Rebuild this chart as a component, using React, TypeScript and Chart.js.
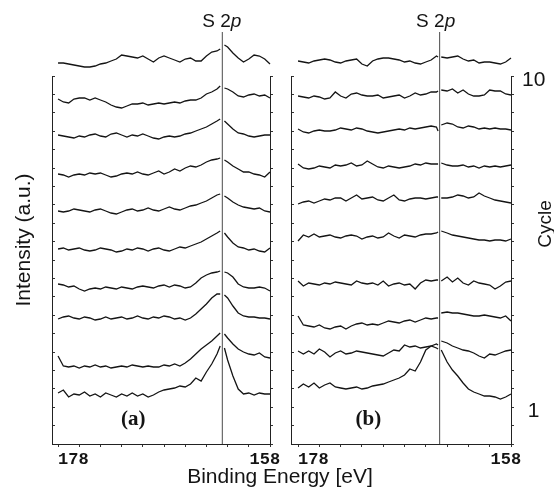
import { useEffect, useRef } from 'react';
import { Chart, registerables } from 'chart.js';

Chart.register(...registerables);

// Binding energies (eV); the null sample marks the break at the S 2p line
const energyA = [178, 177.5, 177, 176.5, 176, 175.5, 175, 174.5, 174, 173.5, 173, 172.5, 172, 171.5, 171, 170.5, 170, 169.5, 169, 168.5, 168, 167.5, 167, 166.5, 166, 165.5, 165, 164.5, 164, 163.5, 163, 162.7, 162.5, 162.3, 162, 161.5, 161, 160.5, 160, 159.5, 159, 158.5, 158];
const energyB = [178, 177.5, 177, 176.5, 176, 175.5, 175, 174.5, 174, 173.5, 173, 172.5, 172, 171.5, 171, 170.5, 170, 169.5, 169, 168.5, 168, 167.5, 167, 166.5, 166, 165.5, 165, 164.85, 164.7, 164.55, 164, 163.5, 163, 162.5, 162, 161.5, 161, 160.5, 160, 159.5, 159, 158.5, 158];

const s2pA = 162.5;
const s2pB = 164.7;
const s2pLineTop = 412;

// Panel (a): stacked spectra, cycle 1 (bottom) to cycle 10 (top), intensity in a.u.
const panelA_c1 = [51, 54, 47, 50, 49, 52, 48, 50, 47, 51, 49, 47, 50, 48, 51, 48, 50, 47, 49, 52, 54, 55, 56, 58, 57, 60, 66, 63, 72, 80, 90, 98, null, 96, 84, 68, 55, 50, 51, 49, 51, 50, 50];
const panelA_c2 = [88, 78, 77, 78, 76, 78, 77, 79, 77, 78, 76, 77, 78, 77, 79, 78, 77, 78, 77, 77, 79, 78, 80, 78, 81, 85, 90, 95, 99, 103, 108, 111, null, 110, 106, 100, 95, 92, 90, 89, 91, 87, 86];
const panelA_c3 = [125, 127, 128, 126, 125, 127, 126, 124, 125, 127, 125, 126, 127, 125, 126, 128, 126, 125, 127, 126, 128, 127, 125, 126, 124, 126, 130, 135, 140, 146, 150, 150, null, 149, 146, 138, 131, 128, 127, 127, 126, 126, 125];
const panelA_c4 = [160, 159, 157, 158, 155, 153, 155, 156, 155, 157, 156, 155, 157, 156, 155, 157, 158, 157, 156, 158, 159, 157, 159, 158, 156, 157, 161, 166, 169, 171, 172, 173, null, 172, 171, 167, 160, 157, 156, 156, 157, 156, 153];
const panelA_c5 = [195, 196, 194, 195, 196, 194, 193, 194, 196, 195, 194, 192, 193, 195, 194, 196, 195, 193, 195, 196, 194, 193, 195, 197, 196, 198, 200, 202, 205, 208, 211, 213, null, 211, 207, 201, 197, 196, 194, 195, 193, 192, 196];
const panelA_c6 = [233, 232, 233, 235, 234, 233, 232, 234, 235, 233, 231, 230, 232, 234, 235, 233, 234, 236, 234, 233, 235, 237, 235, 234, 236, 238, 239, 241, 243, 246, 249, 250, null, 248, 246, 242, 239, 237, 236, 235, 236, 233, 232];
const panelA_c7 = [270, 269, 267, 269, 270, 269, 271, 270, 271, 269, 267, 268, 270, 271, 270, 272, 270, 269, 271, 273, 270, 272, 275, 273, 276, 278, 277, 279, 282, 284, 285, 286, null, 284, 282, 278, 275, 272, 272, 270, 269, 267, 272];
const panelA_c8 = [309, 308, 307, 306, 308, 307, 309, 310, 308, 307, 310, 311, 309, 307, 309, 308, 310, 308, 306, 305, 307, 308, 307, 308, 310, 311, 313, 315, 317, 320, 323, 325, null, 323, 320, 315, 311, 310, 308, 307, 308, 309, 309];
const panelA_c9 = [345, 342, 341, 345, 346, 346, 344, 346, 344, 342, 339, 337, 336, 338, 340, 340, 341, 339, 340, 341, 340, 341, 342, 341, 343, 344, 344, 346, 350, 352, 355, 358, null, 356, 355, 352, 348, 347, 349, 350, 348, 349, 346];
const panelA_c10 = [381, 381, 380, 379, 378, 377, 377, 378, 380, 381, 383, 385, 389, 388, 387, 386, 388, 385, 382, 386, 388, 386, 384, 382, 385, 386, 383, 383, 388, 392, 393, 395, null, 399, 397, 391, 386, 382, 385, 389, 388, 385, 380];

// Panel (b)
const panelB_c1 = [56, 60, 57, 61, 56, 59, 61, 57, 56, 55, 56, 57, 55, 56, 58, 59, 60, 62, 64, 66, 69, 75, 73, 82, 94, 98, 100, 99, null, 94, 82, 74, 68, 61, 55, 52, 50, 48, 48, 47, 45, 47, 50];
const panelB_c2 = [93, 90, 93, 90, 95, 92, 87, 91, 93, 90, 91, 93, 92, 91, 90, 89, 88, 91, 94, 93, 99, 97, 98, 96, 97, 98, 96, 95, null, 103, 101, 98, 96, 94, 93, 91, 88, 86, 90, 89, 91, 93, 94];
const panelB_c3 = [128, 119, 118, 117, 119, 116, 115, 117, 118, 115, 118, 120, 121, 119, 120, 119, 121, 123, 122, 121, 123, 124, 122, 124, 126, 125, 126, 126, null, 131, 132, 131, 131, 130, 129, 128, 128, 129, 128, 127, 126, 128, 123];
const panelB_c4 = [163, 158, 161, 160, 159, 161, 160, 162, 161, 160, 159, 163, 161, 160, 161, 159, 163, 158, 160, 161, 159, 160, 155, 161, 164, 163, 164, 164, null, 163, 167, 162, 166, 161, 159, 163, 161, 160, 159, 155, 158, 162, 163];
const panelB_c5 = [203, 209, 207, 210, 207, 208, 209, 207, 206, 208, 209, 208, 205, 207, 208, 206, 207, 211, 208, 206, 209, 208, 207, 209, 210, 210, 211, 212, null, 213, 211, 209, 208, 207, 206, 205, 204, 204, 203, 204, 204, 203, 205];
const panelB_c6 = [240, 242, 243, 241, 243, 245, 244, 246, 246, 243, 246, 249, 245, 246, 247, 244, 243, 246, 249, 244, 243, 245, 246, 246, 245, 246, 247, 247, null, 246, 246, 247, 249, 248, 246, 247, 251, 248, 246, 244, 243, 242, 241];
const panelB_c7 = [280, 276, 275, 276, 278, 277, 276, 279, 278, 279, 281, 278, 279, 283, 280, 277, 276, 278, 277, 276, 277, 278, 280, 279, 281, 280, 280, 280, null, 281, 279, 278, 278, 279, 277, 278, 276, 278, 277, 278, 277, 278, 279];
const panelB_c8 = [315, 312, 311, 313, 314, 313, 313, 314, 316, 315, 314, 316, 315, 313, 312, 311, 312, 313, 314, 315, 314, 316, 315, 316, 317, 318, 317, 313, null, 319, 321, 320, 317, 316, 318, 317, 315, 316, 315, 316, 315, 315, 314];
const panelB_c9 = [348, 347, 346, 348, 347, 345, 346, 352, 348, 346, 350, 351, 349, 348, 348, 349, 346, 347, 348, 349, 346, 348, 351, 349, 350, 352, 352, 353, null, 354, 353, 355, 351, 354, 350, 348, 348, 349, 354, 353, 353, 350, 349];
const panelB_c10 = [383, 382, 381, 383, 384, 385, 384, 382, 381, 383, 384, 385, 380, 378, 383, 385, 386, 386, 385, 384, 382, 383, 381, 380, 382, 384, 388, 387, null, 387, 386, 387, 388, 385, 383, 384, 381, 382, 382, 381, 380, 382, 386];

// Axis ticks
const xTicks = [158, 160, 162, 164, 166, 168, 170, 172, 174, 176, 178];
const xLabelled = [178, 158];
const yTicks = [0, 18.4, 36.8, 55.2, 73.6, 92, 110.4, 128.8, 147.2, 165.6, 184, 202.4, 220.8, 239.2, 257.6, 276, 294.4, 312.8, 331.2, 349.6, 368];
const cycleTicks = [0, 0.5, 1, 1.5, 2, 2.5, 3, 3.5, 4, 4.5, 5, 5.5, 6, 6.5, 7, 7.5, 8, 8.5, 9, 9.5, 10];
const cycleLabels = [1, 10];

const seriesA = [panelA_c1, panelA_c2, panelA_c3, panelA_c4, panelA_c5, panelA_c6, panelA_c7, panelA_c8, panelA_c9, panelA_c10];
const seriesB = [panelB_c1, panelB_c2, panelB_c3, panelB_c4, panelB_c5, panelB_c6, panelB_c7, panelB_c8, panelB_c9, panelB_c10];

const INK = '#141414';
const SANS = '"Liberation Sans", Arial, sans-serif';

function buildDatasets(energy: number[], series: (number | null)[][], lineAt: number) {
  const traces = series.map((vals, i) => ({
    label: `Cycle ${i + 1}`,
    data: energy.map((e, j) => ({ x: e, y: vals[j] })),
    borderColor: INK,
    borderWidth: 1.3,
    pointRadius: 0,
    tension: 0,
    spanGaps: false,
    clip: false as const,
  }));
  traces.push({
    label: 'S 2p',
    data: [{ x: lineAt, y: 0 }, { x: lineAt, y: s2pLineTop }],
    borderColor: '#4a4a4a',
    borderWidth: 1,
    pointRadius: 0,
    tension: 0,
    spanGaps: false,
    clip: false as const,
  });
  return traces;
}

function drawS2p(ctx: CanvasRenderingContext2D, cx: number, baseY: number) {
  ctx.save();
  ctx.fillStyle = INK;
  ctx.textBaseline = 'alphabetic';
  ctx.textAlign = 'left';
  ctx.font = `19px ${SANS}`;
  const w1 = ctx.measureText('S 2').width;
  ctx.font = `italic 19px ${SANS}`;
  const w2 = ctx.measureText('p').width;
  const x0 = cx - (w1 + w2) / 2;
  ctx.font = `19px ${SANS}`;
  ctx.fillText('S 2', x0, baseY);
  ctx.font = `italic 19px ${SANS}`;
  ctx.fillText('p', x0 + w1, baseY);
  ctx.restore();
}

function drawPanelTag(ctx: CanvasRenderingContext2D, text: string, x: number, y: number) {
  ctx.save();
  ctx.fillStyle = INK;
  ctx.font = 'bold 21px "Liberation Serif", "Times New Roman", serif';
  ctx.textAlign = 'center';
  ctx.textBaseline = 'middle';
  ctx.fillText(text, x, y);
  ctx.restore();
}

function drawRotated(ctx: CanvasRenderingContext2D, text: string, x: number, y: number, size: number) {
  ctx.save();
  ctx.fillStyle = INK;
  ctx.font = `${size}px ${SANS}`;
  ctx.translate(x, y);
  ctx.rotate(-Math.PI / 2);
  ctx.textAlign = 'center';
  ctx.textBaseline = 'alphabetic';
  ctx.fillText(text, 0, 0);
  ctx.restore();
}

const pluginA = {
  id: 'annotA',
  afterDraw(chart: any) {
    const ctx = chart.ctx as CanvasRenderingContext2D;
    const xs = chart.scales.x;
    const ys = chart.scales.y;
    drawS2p(ctx, xs.getPixelForValue(s2pA) - 0.5, 27);
    drawPanelTag(ctx, '(a)', xs.getPixelForValue(170.9), ys.getPixelForValue(24));
    drawRotated(ctx, 'Intensity (a.u.)', 30, 240, 21);
    ctx.save();
    ctx.fillStyle = INK;
    ctx.font = `21px ${SANS}`;
    ctx.textAlign = 'center';
    ctx.textBaseline = 'alphabetic';
    ctx.fillText('Binding Energy [eV]', 280, 483);
    ctx.restore();
  },
};

const pluginB = {
  id: 'annotB',
  afterDraw(chart: any) {
    const ctx = chart.ctx as CanvasRenderingContext2D;
    const xs = chart.scales.x;
    const ys = chart.scales.y;
    drawS2p(ctx, xs.getPixelForValue(s2pB) - 4, 27);
    drawPanelTag(ctx, '(b)', xs.getPixelForValue(171.4), ys.getPixelForValue(24));
    drawRotated(ctx, 'Cycle', 271, 224, 19);
  },
};

function xAxis(max: number) {
  return {
    type: 'linear' as const,
    position: 'bottom' as const,
    reverse: true,
    min: 158,
    max,
    afterBuildTicks: (s: any) => {
      s.ticks = xTicks.map((v) => ({ value: v }));
    },
    afterFit: (s: any) => {
      s.height = 50;
      s.paddingLeft = 0;
      s.paddingRight = 0;
    },
    ticks: {
      autoSkip: false,
      maxRotation: 0,
      minRotation: 0,
      padding: 3,
      color: INK,
      font: { family: '"Liberation Mono", "Courier New", monospace', size: 17, weight: 'bold' as const },
      callback: (v: any) => {
        if (!xLabelled.includes(v)) return '';
        return v === 178 ? '   178' : '158 ';
      },
    },
    grid: { drawOnChartArea: false, drawTicks: true, tickLength: 3, color: '#333' },
    border: { display: true, color: '#222', width: 1 },
  };
}

function intensityAxis(position: 'left' | 'right', width: number, tickLength: number) {
  return {
    type: 'linear' as const,
    position,
    min: 0,
    max: 368,
    afterBuildTicks: (s: any) => {
      s.ticks = yTicks.map((v) => ({ value: v }));
    },
    afterFit: (s: any) => {
      s.width = width;
      s.paddingTop = 0;
      s.paddingBottom = 0;
    },
    ticks: { display: false },
    grid: { drawOnChartArea: false, drawTicks: true, tickLength, color: '#333' },
    border: { display: true, color: '#222', width: 1 },
  };
}

export default function App() {
  const refA = useRef<HTMLCanvasElement>(null);
  const refB = useRef<HTMLCanvasElement>(null);

  useEffect(() => {
    const common = {
      responsive: false,
      animation: false as const,
      events: [] as any[],
      plugins: { legend: { display: false }, tooltip: { enabled: false } },
    };
    const chartA = new Chart(refA.current as HTMLCanvasElement, {
      type: 'line',
      data: { datasets: buildDatasets(energyA, seriesA, s2pA) as any },
      options: {
        ...common,
        layout: { padding: { left: 0, top: 76, right: 284, bottom: 0 } },
        scales: {
          x: xAxis(178.57),
          y: intensityAxis('left', 52, -3),
          yr: intensityAxis('right', 0, 3),
        } as any,
      },
      plugins: [pluginA],
    });
    const chartB = new Chart(refB.current as HTMLCanvasElement, {
      type: 'line',
      data: { datasets: buildDatasets(energyB, seriesB, s2pB) as any },
      options: {
        ...common,
        layout: { padding: { left: 0, top: 76, right: 0, bottom: 0 } },
        scales: {
          x: xAxis(178.66),
          y: intensityAxis('left', 11, -3),
          cycle: {
            type: 'linear',
            position: 'right',
            min: 0,
            max: 10,
            afterBuildTicks: (s: any) => {
              s.ticks = cycleTicks.map((v) => ({ value: v }));
            },
            afterFit: (s: any) => {
              s.width = 43;
              s.paddingTop = 0;
              s.paddingBottom = 0;
            },
            ticks: {
              autoSkip: false,
              padding: 8,
              crossAlign: 'center',
              labelOffset: 4,
              color: INK,
              font: { family: SANS, size: 21 },
              callback: (v: any) => (cycleLabels.includes(v) ? String(v) : ''),
            },
            grid: { drawOnChartArea: false, drawTicks: true, tickLength: 3, color: '#333' },
            border: { display: true, color: '#222', width: 1 },
          },
        } as any,
      },
      plugins: [pluginB],
    });
    return () => {
      chartA.destroy();
      chartB.destroy();
    };
  }, []);

  return (
    <div style={{ position: 'absolute', left: 0, top: 0, width: 554, height: 494, background: '#fff' }}>
      <canvas ref={refA} width={554} height={494} style={{ position: 'absolute', left: 0, top: 0, display: 'block' }} />
      <canvas ref={refB} width={274} height={494} style={{ position: 'absolute', left: 280, top: 0, display: 'block' }} />
    </div>
  );
}
